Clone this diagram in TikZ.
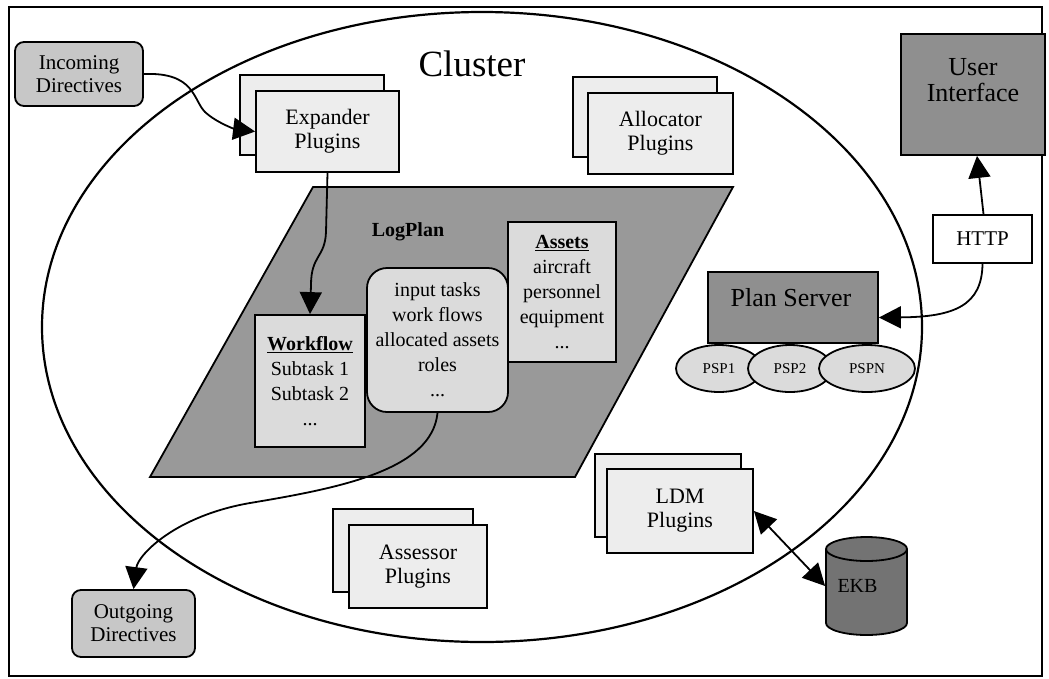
\documentclass[tikz,border=0pt]{standalone}
\usepackage{fontspec}
\setmainfont{Liberation Serif}
\usetikzlibrary{arrows.meta,shapes.geometric}
\definecolor{plugfill}{gray}{0.93}
\definecolor{dirfill}{gray}{0.78}
\definecolor{lpfill}{gray}{0.60}
\definecolor{inboxfill}{gray}{0.86}
\definecolor{darkfill}{gray}{0.56}
\definecolor{ekbfill}{gray}{0.45}
\definecolor{pspfill}{gray}{0.86}
\begin{document}
\begin{tikzpicture}[x=1pt,y=-1pt,line width=1.8pt,
  lbl/.style={align=center,inner sep=0pt},
  plug/.style={draw,fill=plugfill,lbl,font=\fontsize{22}{24}\selectfont},
  dirbox/.style={draw,fill=dirfill,rounded corners=9pt,lbl,font=\fontsize{21}{23}\selectfont},
  inbox/.style={draw,fill=inboxfill,lbl,font=\fontsize{20}{25}\selectfont},
  darkbox/.style={draw,fill=darkfill,inner sep=0pt},
  psp/.style={draw,fill=pspfill,ellipse,inner sep=0pt,font=\fontsize{15}{17}\selectfont},
  arr/.style={-{Triangle[length=22pt,width=22pt]}},
  dblarr/.style={{Triangle[length=22pt,width=22pt]}-{Triangle[length=22pt,width=22pt]}},
]
\useasboundingbox (0,0) rectangle (1049,678);
% frame
\draw[line width=1.5pt] (9,7) rectangle (1042,676);
% cluster ellipse
\draw[line width=2.2pt] (482,327) ellipse [x radius=440pt, y radius=315pt];
\node[lbl,font=\fontsize{37}{40}\selectfont,anchor=base] (cl) at (472,76) {Cluster};

% LogPlan parallelogram
\draw[fill=lpfill] (313,187) -- (733,187) -- (575,477) -- (150,477) -- cycle;
\node[lbl,font=\fontsize{20}{22}\selectfont\bfseries,anchor=base] (lp) at (408,236) {LogPlan};
\node[inbox,minimum width=108pt,minimum height=140pt] (as) at (562,292)
  {\underline{\textbf{Assets}}\\aircraft\\personnel\\equipment\\...};
\node[inbox,minimum width=110pt,minimum height=132pt] (wf) at (310,381)
  {\underline{\textbf{Workflow}}\\Subtask 1\\Subtask 2\\...};
\node[inbox,rounded corners=20pt,minimum width=141pt,minimum height=144pt] (mid) at (437.5,340)
  {input tasks\\work flows\\allocated assets\\roles\\...};

% plugins
\node[plug,minimum width=144pt,minimum height=80pt] (expb) at (312,115) {};
\node[plug,minimum width=143pt,minimum height=81pt] (exp) at (327.5,131.5) {Expander\\Plugins};
\node[plug,minimum width=144pt,minimum height=80pt] (allb) at (645,117) {};
\node[plug,minimum width=145pt,minimum height=81pt] (all) at (660.5,133.5) {Allocator\\Plugins};
\node[plug,minimum width=140pt,minimum height=83pt] (assb) at (403,550.5) {};
\node[plug,minimum width=138pt,minimum height=83pt] (ass) at (418,566.5) {Assessor\\Plugins};
\node[plug,minimum width=146pt,minimum height=83pt] (ldmb) at (668,495.5) {};
\node[plug,minimum width=146pt,minimum height=84pt] (ldm) at (680,511) {LDM\\Plugins};

% directives
\node[dirbox,minimum width=128pt,minimum height=64pt] (inc) at (79,74) {Incoming\\Directives};
\node[dirbox,minimum width=123pt,minimum height=67pt] (out) at (133.5,623.5) {Outgoing\\Directives};

% user interface, http
\node[darkbox,minimum width=144pt,minimum height=121pt] (ui) at (973,94.5) {};
\node[lbl,font=\fontsize{26}{26}\selectfont] (uit) at (973,80) {User\\Interface};
\node[draw,fill=white,lbl,minimum width=99pt,minimum height=48pt,font=\fontsize{21}{23}\selectfont] (http) at (982.5,239) {HTTP};

% plan server
\node[darkbox,minimum width=170pt,minimum height=71pt] (ps) at (793,307.5) {};
\node[lbl,font=\fontsize{26}{28}\selectfont] (pst) at (791,297.5) {Plan Server};
\node[psp,minimum width=86pt,minimum height=47pt] (p1) at (719,368.5) {PSP1};
\node[psp,minimum width=84pt,minimum height=47pt] (p2) at (790,368.5) {PSP2};
\node[psp,minimum width=96pt,minimum height=47pt] (pn) at (867,368.5) {PSPN};

% EKB cylinder
\fill[ekbfill] (826,549) -- (826,623) arc[start angle=180,end angle=360,x radius=40.5pt,y radius=12pt] -- (907,549) -- cycle;
\draw (826,549) -- (826,623) arc[start angle=180,end angle=360,x radius=40.5pt,y radius=12pt] -- (907,549);
\draw[fill=ekbfill] (866.5,549) ellipse [x radius=40.5pt, y radius=12pt];
\node[lbl,minimum width=81pt,minimum height=98pt,font=\fontsize{20}{22}\selectfont] (ekb) at (866.5,586) {\hspace*{-18pt}EKB};

% connectors
\draw[arr] (inc.east) .. controls (195,72) and (193,100) .. (205,112) .. controls (217,123) and (235,129) .. (exp.west);
\draw[arr] (exp.south) -- (326,232) .. controls (325,258) and (311,255) .. (311,285) -- (wf.north);
\draw[arr] (mid.south) .. controls (432,470) and (340,488) .. (250,503) .. controls (175,516) and (138,555) .. (out.north);
\draw[arr] ([xshift=1pt]http.north) -- ([xshift=4pt]ui.south);
\draw[arr] (http.south) .. controls (982,305) and (955,317) .. ([yshift=-10pt]ps.east);
\draw[dblarr] (ldm.east) -- (ekb.west);
\end{tikzpicture}
\end{document}
